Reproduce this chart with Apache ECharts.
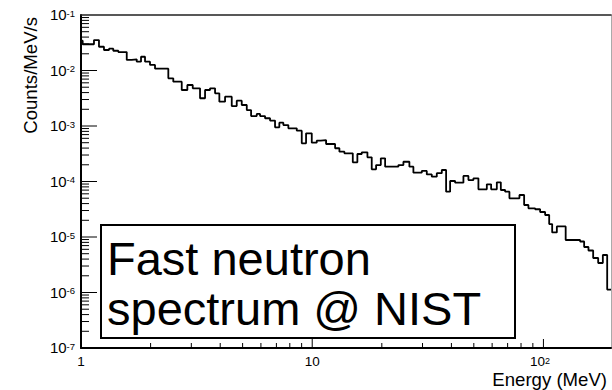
<!DOCTYPE html>
<html><head><meta charset="utf-8">
<script src="https://cdn.jsdelivr.net/npm/echarts@6/dist/echarts.min.js"></script>
<style>html,body{margin:0;padding:0;background:#fff}#c{width:612px;height:390px}</style>
</head><body><div id="c"></div>
<script>
// Histogram: lower bin edges (MeV) of each flat run and its value (Counts/MeV/s)
const binLowEdges = [1.000,1.017,1.138,1.196,1.257,1.322,1.379,1.450,1.577,1.657,
 1.742,1.818,1.892,1.988,2.090,2.386,2.507,2.727,2.884,3.043,
 3.272,3.440,3.615,3.800,3.966,4.198,4.487,4.716,4.957,5.212,
 5.440,5.756,5.949,6.252,6.571,6.906,7.208,7.502,7.885,8.574,
 9.011,9.406,9.956,10.46,10.89,11.48,12.56,13.11,13.78,14.98,
 15.68,16.38,17.33,18.09,18.89,19.80,20.67,23.59,24.80,26.32,
 27.39,29.78,31.30,32.90,34.58,36.35,37.94,39.49,41.50,45.08,
 47.38,49.80,52.34,56.91,59.40,62.87,65.43,68.29,71.28,78.76,
 82.52,86.12,92.06,96.76,101.7,105.9,109.1,114.3,124.8,144.1,
 150.0,156.6,164.1,172.5,180.7,188.7];
const counts = [0.0344,0.0297,0.0354,0.0268,0.0234,0.0247,0.0227,0.0215,0.0155,0.0159,
 0.0144,0.0177,0.0144,0.0126,0.0108,0.00724,0.00628,0.00445,0.00548,0.00478,
 0.00316,0.00445,0.00478,0.00388,0.00274,0.00337,0.00229,0.00286,0.00239,0.00194,
 0.00151,0.00165,0.00151,0.00138,0.00125,0.000948,0.00115,0.00104,0.000909,0.000823,
 0.000488,0.000739,0.000500,0.000543,0.000559,0.000474,0.000397,0.000344,0.000322,0.000222,
 0.000313,0.000336,0.000273,0.000166,0.000198,0.000262,0.000185,0.000198,0.000227,0.000185,
 0.000144,0.000155,0.000134,0.000122,0.000141,0.000161,0.0000655,0.000102,0.0000952,0.000126,
 0.000106,0.000114,0.0000724,0.0000890,0.0000724,0.0000967,0.0000703,0.0000655,0.0000498,0.0000571,
 0.0000377,0.0000329,0.0000316,0.0000282,0.0000249,0.0000171,0.0000121,0.0000155,0.00000883,0.00000829,
 0.00000660,0.00000571,0.00000418,0.00000340,0.00000474,0.00000113];
const xMin = 1, xMax = 196;
const yMin = 1e-7, yMax = 1e-1;
const xDecades = [1, 10, 100];
const yDecades = [1e-7, 1e-6, 1e-5, 1e-4, 1e-3, 1e-2, 1e-1];
const xTitle = 'Energy (MeV)';
const yTitle = 'Counts/MeV/s';
const noteLines = ['Fast neutron', 'spectrum @ NIST'];

const FONT = '"Liberation Sans", Arial, Helvetica, sans-serif';

// step data
const histData = binLowEdges.map((e, i) => [e, counts[i]]);
histData.push([xMax, counts[counts.length - 1]]);

// tick marks (ROOT style, inside the frame): [x, y, kind(0=x,1=y), length]
const tickData = [];
xDecades.forEach(d => {
  for (let k = 1; k <= 9; k++) {
    const v = k * d;
    if (v <= xMin || v >= xMax) continue;
    tickData.push([v, yMin, 0, k === 1 ? 9 : 5]);
  }
});
yDecades.forEach(d => {
  for (let k = 1; k <= 9; k++) {
    const v = k * d;
    if (v <= yMin * 1.0001 || v >= yMax * 0.9999) continue;
    tickData.push([xMin, v, 1, k === 1 ? 16 : 8]);
  }
});

function expOf(v) {
  const l = Math.log10(v);
  const e = Math.round(l);
  return Math.abs(l - e) < 1e-6 ? e : null;
}

const chart = echarts.init(document.getElementById('c'), null, {renderer: 'svg'});
chart.setOption({
  animation: false,
  backgroundColor: '#fff',
  grid: {left: 81, right: 1, top: 15, bottom: 42, containLabel: false, outerBoundsMode: 'none'},
  xAxis: [{
    type: 'log', logBase: 10, min: xMin, max: xMax, splitNumber: 2,
    axisLine: {show: true, lineStyle: {color: '#000', width: 2}},
    axisTick: {show: false}, splitLine: {show: false}, minorTick: {show: false},
    axisLabel: {
      margin: 8, color: '#000', fontFamily: FONT, fontSize: 13.5,
      showMaxLabel: false,
      formatter: v => {
        const e = expOf(v);
        if (e === null) return '';
        if (e === 0) return '{b|1}';
        if (e === 1) return '{b|10}';
        return '{b|10}{sup|' + e + '}';
      },
      rich: {
        b: {fontFamily: FONT, fontSize: 13.5, lineHeight: 12, verticalAlign: 'bottom', color: '#000'},
        sup: {fontFamily: FONT, fontSize: 9, lineHeight: 8, verticalAlign: 'top', color: '#000', padding: [0, 7, 6, 0]}
      }
    }
  }, {
    type: 'log', logBase: 10, min: xMin, max: xMax, position: 'top',
    axisLine: {show: true, lineStyle: {color: '#222', width: 1.5}},
    axisTick: {show: false}, axisLabel: {show: false}, splitLine: {show: false}
  }],
  yAxis: [{
    type: 'log', logBase: 10, min: yMin, max: yMax, splitNumber: 6,
    axisLine: {show: true, lineStyle: {color: '#000', width: 2}},
    axisTick: {show: false}, splitLine: {show: false}, minorTick: {show: false},
    axisLabel: {
      margin: 6, color: '#000', fontFamily: FONT, fontSize: 15,
      formatter: v => {
        const e = expOf(v);
        if (e === null) return '';
        return '{b|10}{sup|' + e + '}';
      },
      rich: {
        b: {fontFamily: FONT, fontSize: 15, lineHeight: 14, verticalAlign: 'bottom', color: '#000', padding: [0, 0, 0, 0]},
        sup: {fontFamily: FONT, fontSize: 9.5, lineHeight: 9, verticalAlign: 'top', color: '#000', padding: [0, 0, 8, 0]}
      }
    }
  }, {
    type: 'log', logBase: 10, min: yMin, max: yMax, position: 'right',
    axisLine: {show: true, lineStyle: {color: '#aaa', width: 1}},
    axisTick: {show: false}, axisLabel: {show: false}, splitLine: {show: false}
  }],
  series: [{
    type: 'line', xAxisIndex: 0, yAxisIndex: 0, step: 'end',
    data: histData, symbol: 'none', silent: true,
    lineStyle: {color: '#000', width: 1.8}
  }, {
    type: 'custom', xAxisIndex: 0, yAxisIndex: 0, silent: true,
    data: tickData,
    encode: {x: 0, y: 1},
    renderItem: (params, api) => {
      const p = api.coord([api.value(0), api.value(1)]);
      const kind = api.value(2), len = api.value(3);
      const shape = kind === 0
        ? {x1: p[0], y1: p[1], x2: p[0], y2: p[1] - len}
        : {x1: p[0], y1: p[1], x2: p[0] + len, y2: p[1]};
      return {type: 'line', shape: shape, style: {stroke: '#000', lineWidth: 1}};
    }
  }],
  graphic: [
    {type: 'text', x: 30.5, y: 17, rotation: Math.PI / 2,
     style: {text: yTitle, font: '18.6px ' + FONT, fill: '#000', align: 'right', textAlign: 'right', verticalAlign: 'middle', textVerticalAlign: 'middle'}},
    {type: 'text', x: 607, y: 379.5,
     style: {text: xTitle, font: '18.6px ' + FONT, fill: '#000', align: 'right', textAlign: 'right', verticalAlign: 'middle', textVerticalAlign: 'middle'}},
    {type: 'rect', z: 100, shape: {x: 101, y: 225, width: 414, height: 113},
     style: {fill: '#fff', stroke: '#000', lineWidth: 2}},
    {type: 'text', z: 101, x: 107, y: 258.7,
     style: {text: noteLines[0], font: '47px ' + FONT, fill: '#000', verticalAlign: 'middle', textVerticalAlign: 'middle'}},
    {type: 'text', z: 101, x: 107, y: 308.7,
     style: {text: noteLines[1], font: '47px ' + FONT, fill: '#000', verticalAlign: 'middle', textVerticalAlign: 'middle'}}
  ]
});
</script>
</body></html>
